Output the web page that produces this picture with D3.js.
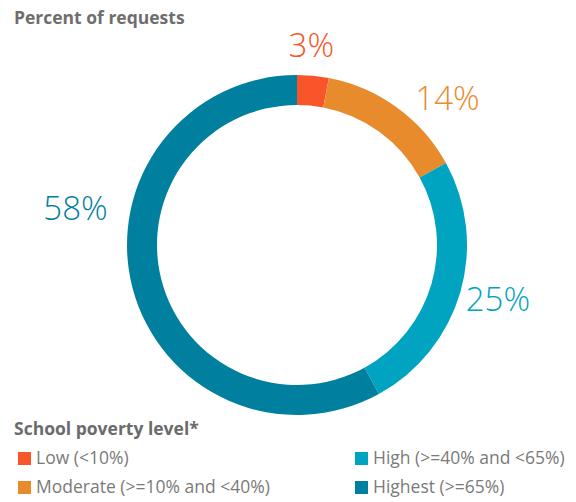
<!DOCTYPE html>
<html>
<head>
<meta charset="utf-8">
<script src="https://cdn.jsdelivr.net/npm/d3@7"></script>
<style>
  body { margin: 0; background: #fff; }
  svg { font-family: "Open Sans", sans-serif; }
</style>
</head>
<body>
<svg id="chart" width="576" height="502"></svg>
<script>
// Data
const categories = ["Low (<10%)", "Moderate (>=10% and <40%)", "High (>=40% and <65%)", "Highest (>=65%)"];
const percents = [3, 14, 25, 58];
const colors = ["#f9552b", "#e88b2d", "#00a4c1", "#007f9f"];

// Layout
const DIMENSIONS = {
  width: 576,
  height: 502,
  cx: 297,
  cy: 245,
  outer: 170,
  inner: 140,
  labelR: 205
};

// hand nudges for the percent labels (relative to the arc centroid)
const LABEL_NUDGE = [[-5, 4], [30, 19], [4, -3], [-23, -88]];

const svg = d3.select("#chart");

// Title
svg.append("text")
  .attr("x", 14)
  .attr("y", 24)
  .attr("font-size", "17.5px")
  .attr("font-weight", "bold")
  .attr("fill", "#6e6e6e")
  .text("Percent of requests");

const data = categories.map((c, i) => ({name: c, value: percents[i], color: colors[i]}));

const pie = d3.pie()
  .value(d => d.value)
  .sort(null);

const arc = d3.arc()
  .innerRadius(DIMENSIONS.inner)
  .outerRadius(DIMENSIONS.outer);

const labelArc = d3.arc()
  .innerRadius(DIMENSIONS.labelR)
  .outerRadius(DIMENSIONS.labelR);

const g = svg.append("g")
  .attr("transform", `translate(${DIMENSIONS.cx},${DIMENSIONS.cy})`);

const arcs = pie(data);

g.selectAll("path")
  .data(arcs)
  .join("path")
  .attr("d", arc)
  .attr("fill", d => d.data.color);

g.selectAll(".pct-label")
  .data(arcs)
  .join("text")
  .attr("class", "pct-label")
  .attr("x", (d, i) => labelArc.centroid(d)[0] + LABEL_NUDGE[i][0])
  .attr("y", (d, i) => labelArc.centroid(d)[1] + LABEL_NUDGE[i][1])
  .attr("dy", "0.36em")
  .attr("text-anchor", "middle")
  .attr("font-size", "33px")
  .attr("font-weight", 300)
  .attr("fill", d => d.data.color)
  .text(d => d.data.value + "%");

// Legend
const legend = svg.append("g");

legend.append("text")
  .attr("x", 14)
  .attr("y", 435)
  .attr("font-size", "17.5px")
  .attr("font-weight", "bold")
  .attr("fill", "#6b6b6b")
  .text("School poverty level*");

const legendPos = [[18, 464], [18, 493], [355, 464], [355, 493]];

const items = legend.selectAll(".legend-item")
  .data(data)
  .join("g")
  .attr("class", "legend-item")
  .attr("transform", (d, i) => `translate(${legendPos[i][0]},${legendPos[i][1]})`);

items.append("rect")
  .attr("x", 0)
  .attr("y", -12)
  .attr("width", 13)
  .attr("height", 13)
  .attr("fill", d => d.color);

items.append("text")
  .attr("x", 18)
  .attr("y", 0)
  .attr("font-size", "17.5px")
  .attr("fill", "#7a7a7a")
  .text(d => d.name);
</script>
</body>
</html>
